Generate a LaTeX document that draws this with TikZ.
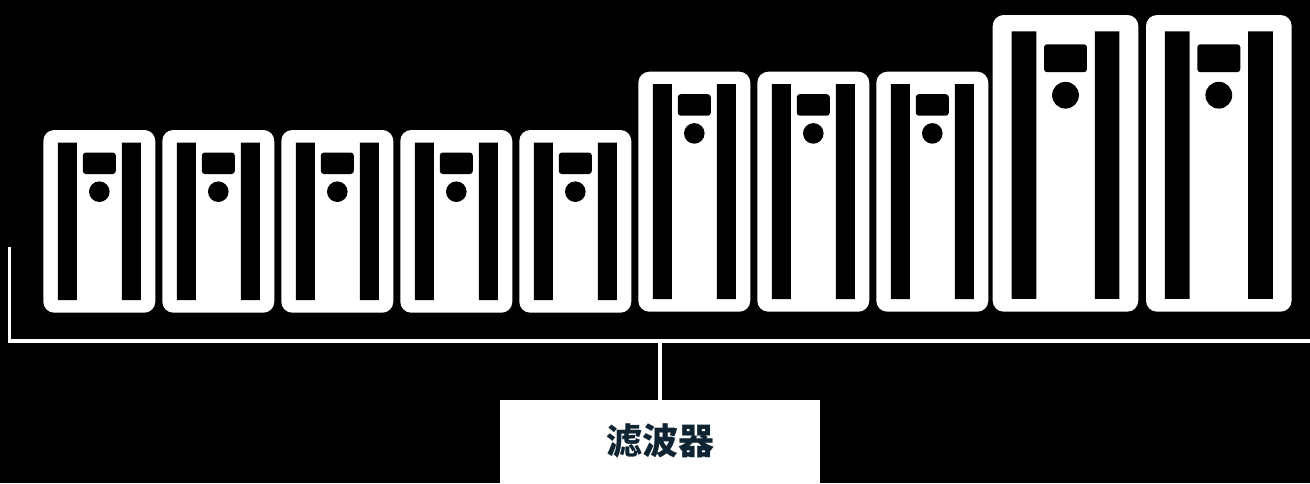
\documentclass[tikz,border=0pt]{standalone}
\usepackage{fontspec}
\usetikzlibrary{positioning}
\newfontfamily\cjk{Noto Sans CJK SC}
\definecolor{NAVY_E}{HTML}{0E2432}
\tikzset{
	every node/.style = {font=\cjk\bfseries\fontsize{36}{40}\selectfont},
	filterbox/.style = {fill=white, text=NAVY_E, minimum width=320pt, minimum height=83pt, inner sep=0pt},
	busline/.style = {draw=white, line width=3.5pt}
}

\begin{document}
\begin{tikzpicture}[x=1pt, y=-1pt]
		% background
		\fill[black] (0,0) rectangle (1310,483);
		\useasboundingbox (0,0) rectangle (1310,483);
		% cabinets
		\foreach \cx/\cy/\ch/\cs/\cb in {43.3/130/182.7/1/12.5, 162.3/130/182.7/1/12.5,
		      281.3/130/182.7/1/12.5, 400.3/130/182.7/1/12.5, 519.3/130/182.7/1/12.5,
		      638.3/71.7/240/1/12.5, 757.3/71.7/240/1/12.5, 876.3/71.7/240/1/12.5,
		      992.7/15/228.2/1.3/9.8, 1146/15/228.2/1.3/9.8}{
			\begin{scope}[shift={(\cx,\cy)}, scale=\cs]
			\fill[white, rounded corners=11pt] (0,0) rectangle (112,\ch);
			\fill[black] (14.5,12.5) rectangle (33.5,\ch-\cb)
			      (78.5,12.5) rectangle (97.5,\ch-\cb);
			\fill[black, rounded corners=3pt] (39.5,22.5) rectangle (72.5,44);
			\fill[black] (56,61.7) circle (10.3);
			\end{scope}
		}
		% filter
		\node[filterbox] (filter) at (660,441.5) {滤波器};
		% bus line
		\coordinate (busL) at (9.5,247);
		\coordinate (busR) at (1310,341);
		\draw[busline] (busL) |- (busR);
		\draw[busline] (filter.north) -- (filter.north |- busR);
	\end{tikzpicture}
\end{document}
